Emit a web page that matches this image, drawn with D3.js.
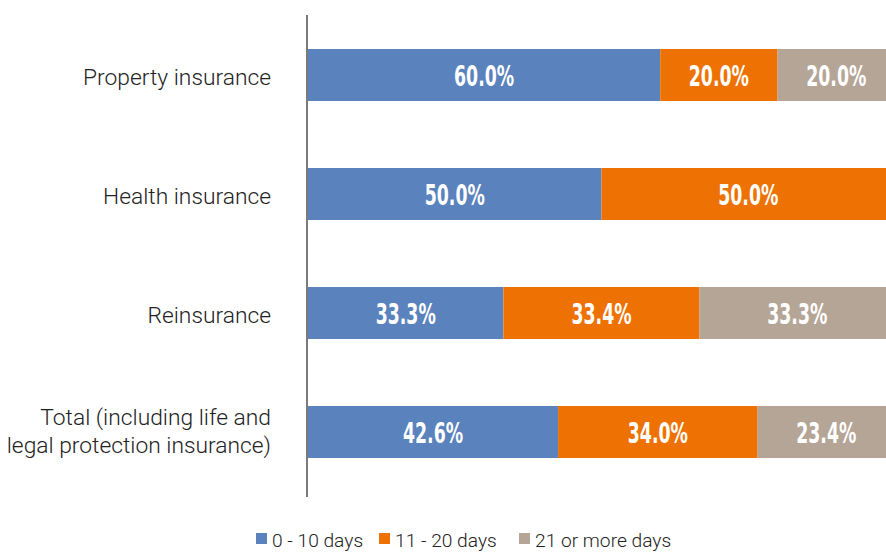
<!DOCTYPE html>
<html>
<head>
<meta charset="utf-8">
<script src="https://cdn.jsdelivr.net/npm/d3@7"></script>
<style>
  html, body { margin: 0; padding: 0; background: #fff; }
  svg { display: block; }
</style>
</head>
<body>
<svg id="chart" width="886" height="552"></svg>
<script>
const categories = [
  ["Property insurance"],
  ["Health insurance"],
  ["Reinsurance"],
  ["Total (including life and", "legal protection insurance)"]
];
const seriesNames = ["0 - 10 days", "11 - 20 days", "21 or more days"];
const shortDays = [60.0, 50.0, 33.3, 42.6];
const midDays = [20.0, 50.0, 33.4, 34.0];
const longDays = [20.0, 0.0, 33.3, 23.4];
const colors = ["#5a82bd", "#ee7203", "#b5a596"];

const svg = d3.select("#chart");
const x = d3.scaleLinear().domain([0, 100]).range([308, 895]);
const y = d3.scaleBand().domain(d3.range(categories.length))
  .range([15.5, 491.5]).paddingInner(0.563).paddingOuter(0.2815);

const seriesData = [shortDays, midDays, longDays];
const rows = categories.map((c, i) => {
  let acc = 0;
  return seriesData.map((s, k) => {
    const seg = { i, k, x0: acc, x1: acc + s[i], v: s[i] };
    acc += s[i];
    return seg;
  });
});

const g = svg.append("g");
rows.forEach(row => {
  row.filter(d => d.v > 0).forEach(d => {
    g.append("rect")
      .attr("x", x(d.x0))
      .attr("y", y(d.i))
      .attr("width", x(d.x1) - x(d.x0))
      .attr("height", y.bandwidth())
      .attr("fill", colors[d.k]);
    const cx = (x(d.x0) + x(d.x1)) / 2;
    const cy = y(d.i) + y.bandwidth() / 2 + 11;
    g.append("text")
      .attr("transform", `translate(${cx},${cy}) scale(0.62,1)`)
      .attr("text-anchor", "middle")
      .attr("fill", "#fff")
      .attr("font-family", "'DejaVu Sans', sans-serif")
      .attr("font-weight", "bold")
      .attr("font-size", 28)
      .text(d.v.toFixed(1) + "%");
  });
});

// axis line
svg.append("line")
  .attr("x1", 307).attr("x2", 307)
  .attr("y1", 15).attr("y2", 497)
  .attr("stroke", "#333").attr("stroke-width", 1.3);

// category labels
categories.forEach((lines, i) => {
  const cy = y(i) + y.bandwidth() / 2;
  const t = svg.append("text")
    .attr("text-anchor", "end")
    .attr("font-family", "Roboto, sans-serif")
    .attr("font-weight", 300)
    .attr("font-size", 22.8)
    .attr("fill", "#222");
  if (lines.length === 1) {
    t.append("tspan").attr("x", 271).attr("y", cy + 9.5).text(lines[0]);
  } else {
    lines.forEach((ln, j) => {
      t.append("tspan")
        .attr("x", 271)
        .attr("y", cy - 7.5 + j * 28)
        .text(ln);
    });
  }
});

// legend
const legendX = [256, 379, 519];
seriesNames.forEach((n, k) => {
  svg.append("rect")
    .attr("x", legendX[k]).attr("y", 533)
    .attr("width", 11).attr("height", 11)
    .attr("fill", colors[k]);
  svg.append("text")
    .attr("x", legendX[k] + 16).attr("y", 546.5)
    .attr("font-family", "Roboto, sans-serif")
    .attr("font-weight", 300)
    .attr("font-size", 19.2)
    .attr("fill", "#222")
    .text(n);
});
</script>
</body>
</html>
